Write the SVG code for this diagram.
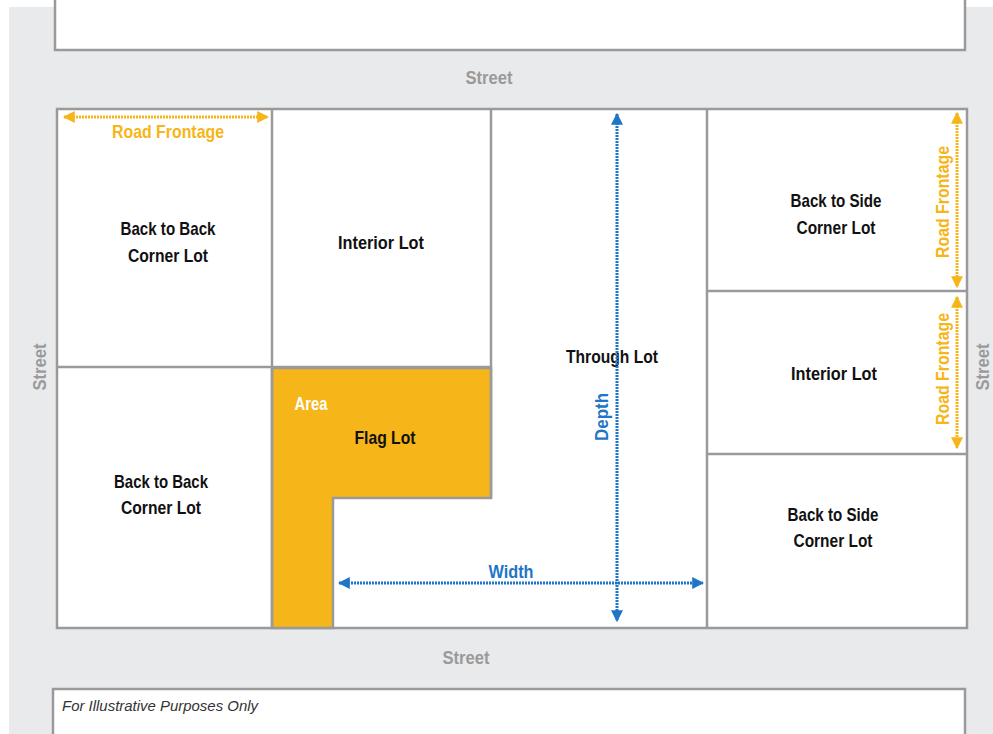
<svg xmlns="http://www.w3.org/2000/svg" width="993" height="734" viewBox="0 0 993 734">
<style>
.lot{fill:#fff;stroke:#9a9a9a;stroke-width:2.5}
.ln{fill:none;stroke:#9a9a9a;stroke-width:2.5}
.t{font-family:"Liberation Sans Narrow","Liberation Sans",sans-serif;font-weight:bold;font-size:19px;fill:#111;text-anchor:middle}
.st{font-family:"Liberation Sans Narrow","Liberation Sans",sans-serif;font-weight:bold;font-size:19px;fill:#9a9a9a;text-anchor:middle}
.or{fill:#f6b519}
.bl{fill:#1f76c6}
.da{fill:none;stroke-width:3;stroke-dasharray:2 1}
</style>
<defs>
<marker id="ao" viewBox="0 0 10 10" refX="9" refY="5" markerWidth="4" markerHeight="4" orient="auto-start-reverse" markerUnits="strokeWidth"><path d="M0,0L10,5L0,10z" fill="#f6b519"/></marker>
<marker id="ab" viewBox="0 0 10 10" refX="9" refY="5" markerWidth="4" markerHeight="4" orient="auto-start-reverse" markerUnits="strokeWidth"><path d="M0,0L10,5L0,10z" fill="#1f76c6"/></marker>
</defs>
<rect x="0" y="0" width="993" height="734" fill="#fff"/>
<rect x="9" y="7" width="984" height="727" fill="#e9eaec"/>
<g id="top-block"><rect class="lot" x="55" y="-5" width="910" height="55"/></g>
<g id="bottom-block"><rect class="lot" x="53" y="689" width="912" height="60"/>
<text x="62" y="711" font-family="'Liberation Sans Narrow','Liberation Sans',sans-serif" font-style="italic" font-size="15" fill="#333" textLength="196" lengthAdjust="spacingAndGlyphs">For Illustrative Purposes Only</text></g>
<g id="streets">
<text class="st" x="489" y="84" textLength="47" lengthAdjust="spacingAndGlyphs">Street</text>
<text class="st" x="466" y="664" textLength="47" lengthAdjust="spacingAndGlyphs">Street</text>
<text class="st" transform="translate(46,367) rotate(-90)" textLength="47" lengthAdjust="spacingAndGlyphs">Street</text>
<text class="st" transform="translate(989,367) rotate(-90)" textLength="47" lengthAdjust="spacingAndGlyphs">Street</text>
</g>
<g id="main-block">
<rect class="lot" x="57" y="109" width="910" height="519"/>
</g>
<g id="flag-lot">
<path d="M272,368H491V498H333V628H272Z" class="or" stroke="#9a9a9a" stroke-width="2.5"/>
<text x="311" y="410" font-family="'Liberation Sans Narrow','Liberation Sans',sans-serif" font-weight="bold" font-size="19" fill="#fff" text-anchor="middle" textLength="33" lengthAdjust="spacingAndGlyphs">Area</text>
<text class="t" x="385" y="444" textLength="61" lengthAdjust="spacingAndGlyphs">Flag Lot</text>
</g>
<g id="lot-lines">
<path class="ln" d="M272,109V628M491,109V498M707,109V628M57,367H491M707,291H967M707,454H967"/>
</g>
<g id="bb-corner-1"><text class="t" x="168" y="235" textLength="95" lengthAdjust="spacingAndGlyphs">Back to Back</text><text class="t" x="168" y="262" textLength="80" lengthAdjust="spacingAndGlyphs">Corner Lot</text></g>
<g id="interior-1"><text class="t" x="381" y="249" textLength="86" lengthAdjust="spacingAndGlyphs">Interior Lot</text></g>
<g id="bb-corner-2"><text class="t" x="161" y="488" textLength="94" lengthAdjust="spacingAndGlyphs">Back to Back</text><text class="t" x="161" y="514" textLength="80" lengthAdjust="spacingAndGlyphs">Corner Lot</text></g>
<g id="through-lot"><text class="t" x="612" y="363" textLength="92" lengthAdjust="spacingAndGlyphs">Through Lot</text></g>
<g id="bs-corner-1"><text class="t" x="836" y="207" textLength="91" lengthAdjust="spacingAndGlyphs">Back to Side</text><text class="t" x="836" y="234" textLength="79" lengthAdjust="spacingAndGlyphs">Corner Lot</text></g>
<g id="interior-2"><text class="t" x="834" y="380" textLength="86" lengthAdjust="spacingAndGlyphs">Interior Lot</text></g>
<g id="bs-corner-2"><text class="t" x="833" y="521" textLength="91" lengthAdjust="spacingAndGlyphs">Back to Side</text><text class="t" x="833" y="547" textLength="79" lengthAdjust="spacingAndGlyphs">Corner Lot</text></g>
<g id="connectors">
<line class="da" x1="64" y1="117" x2="268" y2="117" stroke="#f6b519" marker-start="url(#ao)" marker-end="url(#ao)"/>
<line class="da" x1="957" y1="113" x2="957" y2="287" stroke="#f6b519" marker-start="url(#ao)" marker-end="url(#ao)"/>
<line class="da" x1="957" y1="297" x2="957" y2="448" stroke="#f6b519" marker-start="url(#ao)" marker-end="url(#ao)"/>
<line class="da" x1="617" y1="114" x2="617" y2="621" stroke="#1f76c6" marker-start="url(#ab)" marker-end="url(#ab)"/>
<line class="da" x1="339" y1="583" x2="703" y2="583" stroke="#1f76c6" marker-start="url(#ab)" marker-end="url(#ab)"/>
</g>
<g id="labels">
<text class="t" x="168" y="138" style="fill:#f6b519" textLength="112" lengthAdjust="spacingAndGlyphs">Road Frontage</text>
<text class="t" transform="translate(949,202) rotate(-90)" style="fill:#f6b519" textLength="112" lengthAdjust="spacingAndGlyphs">Road Frontage</text>
<text class="t" transform="translate(949,369) rotate(-90)" style="fill:#f6b519" textLength="112" lengthAdjust="spacingAndGlyphs">Road Frontage</text>
<text class="t" x="511" y="578" style="fill:#1f76c6" textLength="45" lengthAdjust="spacingAndGlyphs">Width</text>
<text class="t" transform="translate(608,417) rotate(-90)" style="fill:#1f76c6" textLength="48" lengthAdjust="spacingAndGlyphs">Depth</text>
</g>
</svg>
